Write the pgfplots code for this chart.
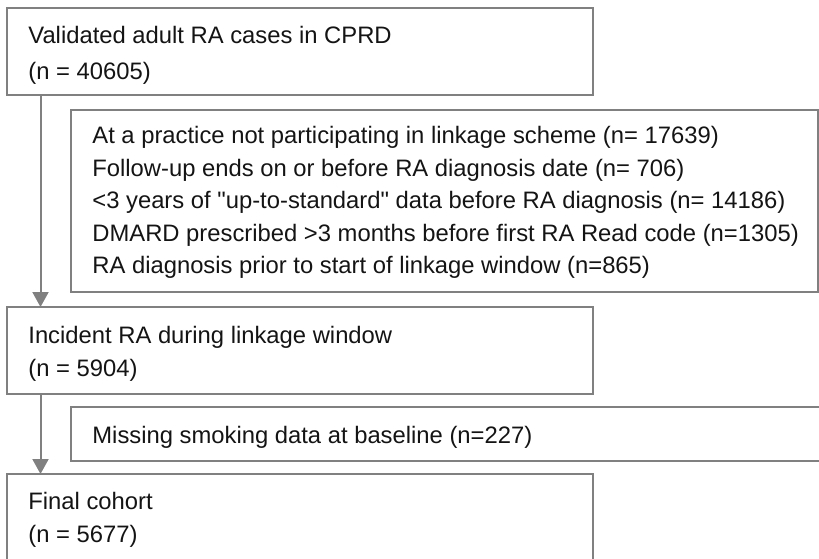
\documentclass[border=0pt]{standalone}
\usepackage{fontspec}
\setmainfont{Liberation Sans}
\usepackage{pgfplots}
\pgfplotsset{compat=1.18}
\usetikzlibrary{arrows.meta}
\definecolor{boxgray}{RGB}{128,128,128}
\definecolor{txt}{RGB}{20,20,20}
\newcommand\sq{\XeTeXglyph\XeTeXcharglyph"22\relax}
\begin{document}
\begin{tikzpicture}
\begin{axis}[scale only axis, width=409.5pt, height=279pt,
  xmin=0, xmax=819, ymin=0, ymax=558, y dir=reverse, hide axis, clip=true]
\addplot[draw=none] coordinates {(0,0) (819,558)};
\tikzset{lbl/.style={anchor=base west, inner sep=0pt, text=txt, font=\fontsize{11.9}{14}\selectfont},
  bx/.style={draw=boxgray, line width=1pt}}
% boxes
\draw[bx] (7,8) rectangle (593,95);
\draw[bx] (71,110) rectangle (818,292);
\draw[bx] (7,307) rectangle (593,394);
\draw[bx] (830,407) -- (71,407) -- (71,461) -- (830,461);
\draw[bx] (7,570) -- (7,474) -- (593,474) -- (593,570);
% connectors
\draw[boxgray, line width=1pt, -{Triangle[width=8pt,length=7.5pt]}] (40.5,95) -- (40.5,307);
\draw[boxgray, line width=1pt, -{Triangle[width=8pt,length=7.5pt]}] (40.5,394) -- (40.5,474);
% texts
\node[lbl] at (28,43) {Validated adult RA cases in CPRD};
\node[lbl] at (28,79) {(n = 40605)};
\node[lbl] at (92,143.5) {At a practice not participating in linkage scheme (n= 17639)};
\node[lbl] at (92,176) {Follow-up ends on or before RA diagnosis date (n= 706)};
\node[lbl] at (92,208.5) {<3 years of \sq up-to-standard\sq{} data before RA diagnosis (n= 14186)};
\node[lbl] at (92,241) {DMARD prescribed >3 months before first RA Read code (n=1305)};
\node[lbl] at (92,273.5) {RA diagnosis prior to start of linkage window (n=865)};
\node[lbl] at (28,343) {Incident RA during linkage window};
\node[lbl] at (28,376) {(n = 5904)};
\node[lbl] at (92,443) {Missing smoking data at baseline (n=227)};
\node[lbl] at (28,509) {Final cohort};
\node[lbl] at (28,542) {(n = 5677)};
\end{axis}
\pgfresetboundingbox
\path[use as bounding box] (current axis.south west) rectangle (current axis.north east);
\end{tikzpicture}
\end{document}
